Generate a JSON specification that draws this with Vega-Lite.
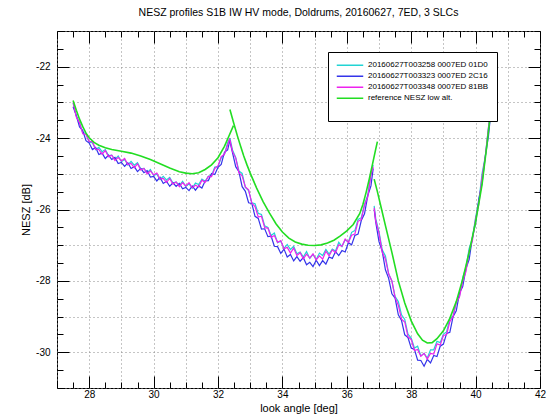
{
"$schema": "https://vega.github.io/schema/vega-lite/v6.json",
"width": 483, "height": 357,
"autosize": {"type": "none"},
"padding": {"left": 57, "top": 31, "right": 14, "bottom": 32},
"background": "white",
"title": {"text": "NESZ profiles S1B IW HV mode, Doldrums, 20160627, 7ED, 3 SLCs", "font": "Liberation Sans", "fontSize": 10.5, "fontWeight": "normal", "color": "black", "anchor": "middle", "offset": 8},
"config": {
  "view": {"stroke": "black", "strokeWidth": 1},
  "axis": {"labelFont": "Liberation Sans", "titleFont": "Liberation Sans", "labelFontSize": 10, "titleFontSize": 11, "titleFontWeight": "normal", "labelColor": "black", "titleColor": "black", "tickColor": "black", "domain": false, "gridColor": "#8a8a8a", "gridDash": [1, 3], "gridWidth": 1, "labelOverlap": false, "labelFlush": false}
},
"data": {"values": [
{"s":"c","g":1,"x":27.5,"y":-23.02},{"s":"c","g":1,"x":27.6,"y":-23.38},{"s":"c","g":1,"x":27.7,"y":-23.57},{"s":"c","g":1,"x":27.8,"y":-23.85},{"s":"c","g":1,"x":27.9,"y":-23.86},{"s":"c","g":1,"x":28.0,"y":-24.12},{"s":"c","g":1,"x":28.1,"y":-24.13},{"s":"c","g":1,"x":28.2,"y":-24.32},{"s":"c","g":1,"x":28.3,"y":-24.26},{"s":"c","g":1,"x":28.4,"y":-24.38},{"s":"c","g":1,"x":28.5,"y":-24.32},{"s":"c","g":1,"x":28.6,"y":-24.49},{"s":"c","g":1,"x":28.7,"y":-24.48},{"s":"c","g":1,"x":28.8,"y":-24.60},{"s":"c","g":1,"x":28.9,"y":-24.50},{"s":"c","g":1,"x":29.0,"y":-24.66},{"s":"c","g":1,"x":29.1,"y":-24.60},{"s":"c","g":1,"x":29.2,"y":-24.75},{"s":"c","g":1,"x":29.3,"y":-24.65},{"s":"c","g":1,"x":29.4,"y":-24.76},{"s":"c","g":1,"x":29.5,"y":-24.69},{"s":"c","g":1,"x":29.6,"y":-24.86},{"s":"c","g":1,"x":29.7,"y":-24.85},{"s":"c","g":1,"x":29.8,"y":-24.97},{"s":"c","g":1,"x":29.9,"y":-24.88},{"s":"c","g":1,"x":30.0,"y":-25.05},{"s":"c","g":1,"x":30.1,"y":-25.01},{"s":"c","g":1,"x":30.2,"y":-25.16},{"s":"c","g":1,"x":30.3,"y":-25.07},{"s":"c","g":1,"x":30.4,"y":-25.17},{"s":"c","g":1,"x":30.5,"y":-25.10},{"s":"c","g":1,"x":30.6,"y":-25.26},{"s":"c","g":1,"x":30.7,"y":-25.23},{"s":"c","g":1,"x":30.8,"y":-25.33},{"s":"c","g":1,"x":30.9,"y":-25.21},{"s":"c","g":1,"x":31.0,"y":-25.36},{"s":"c","g":1,"x":31.1,"y":-25.28},{"s":"c","g":1,"x":31.2,"y":-25.40},{"s":"c","g":1,"x":31.3,"y":-25.26},{"s":"c","g":1,"x":31.4,"y":-25.30},{"s":"c","g":1,"x":31.5,"y":-25.15},{"s":"c","g":1,"x":31.6,"y":-25.21},{"s":"c","g":1,"x":31.7,"y":-25.07},{"s":"c","g":1,"x":31.8,"y":-25.05},{"s":"c","g":1,"x":31.9,"y":-24.81},{"s":"c","g":1,"x":32.0,"y":-24.80},{"s":"c","g":1,"x":32.1,"y":-24.55},{"s":"c","g":1,"x":32.2,"y":-24.46},{"s":"c","g":1,"x":32.3,"y":-24.13},{"s":"c","g":1,"x":32.37,"y":-24.0},
{"s":"c","g":2,"x":32.37,"y":-24.0},{"s":"c","g":2,"x":32.45,"y":-24.33},{"s":"c","g":2,"x":32.55,"y":-24.54},{"s":"c","g":2,"x":32.65,"y":-24.92},{"s":"c","g":2,"x":32.75,"y":-24.99},{"s":"c","g":2,"x":32.85,"y":-25.38},{"s":"c","g":2,"x":32.95,"y":-25.47},{"s":"c","g":2,"x":33.05,"y":-25.81},{"s":"c","g":2,"x":33.15,"y":-25.84},{"s":"c","g":2,"x":33.25,"y":-26.11},{"s":"c","g":2,"x":33.35,"y":-26.14},{"s":"c","g":2,"x":33.45,"y":-26.46},{"s":"c","g":2,"x":33.55,"y":-26.50},{"s":"c","g":2,"x":33.65,"y":-26.73},{"s":"c","g":2,"x":33.75,"y":-26.66},{"s":"c","g":2,"x":33.85,"y":-26.93},{"s":"c","g":2,"x":33.95,"y":-26.89},{"s":"c","g":2,"x":34.05,"y":-27.09},{"s":"c","g":2,"x":34.15,"y":-26.98},{"s":"c","g":2,"x":34.25,"y":-27.12},{"s":"c","g":2,"x":34.35,"y":-27.03},{"s":"c","g":2,"x":34.45,"y":-27.24},{"s":"c","g":2,"x":34.55,"y":-27.19},{"s":"c","g":2,"x":34.65,"y":-27.33},{"s":"c","g":2,"x":34.75,"y":-27.18},{"s":"c","g":2,"x":34.85,"y":-27.37},{"s":"c","g":2,"x":34.95,"y":-27.26},{"s":"c","g":2,"x":35.05,"y":-27.40},{"s":"c","g":2,"x":35.15,"y":-27.22},{"s":"c","g":2,"x":35.25,"y":-27.29},{"s":"c","g":2,"x":35.35,"y":-27.12},{"s":"c","g":2,"x":35.45,"y":-27.25},{"s":"c","g":2,"x":35.55,"y":-27.11},{"s":"c","g":2,"x":35.65,"y":-27.16},{"s":"c","g":2,"x":35.75,"y":-26.92},{"s":"c","g":2,"x":35.85,"y":-27.04},{"s":"c","g":2,"x":35.95,"y":-26.85},{"s":"c","g":2,"x":36.05,"y":-26.91},{"s":"c","g":2,"x":36.15,"y":-26.64},{"s":"c","g":2,"x":36.25,"y":-26.59},{"s":"c","g":2,"x":36.35,"y":-26.28},{"s":"c","g":2,"x":36.45,"y":-26.23},{"s":"c","g":2,"x":36.55,"y":-25.86},{"s":"c","g":2,"x":36.65,"y":-25.60},{"s":"c","g":2,"x":36.75,"y":-24.97},{"s":"c","g":2,"x":36.82,"y":-24.75},
{"s":"c","g":3,"x":36.85,"y":-25.9},{"s":"c","g":3,"x":36.9,"y":-26.26},{"s":"c","g":3,"x":37.0,"y":-26.62},{"s":"c","g":3,"x":37.1,"y":-27.13},{"s":"c","g":3,"x":37.2,"y":-27.30},{"s":"c","g":3,"x":37.3,"y":-27.80},{"s":"c","g":3,"x":37.4,"y":-28.00},{"s":"c","g":3,"x":37.5,"y":-28.44},{"s":"c","g":3,"x":37.6,"y":-28.58},{"s":"c","g":3,"x":37.7,"y":-28.95},{"s":"c","g":3,"x":37.8,"y":-29.08},{"s":"c","g":3,"x":37.9,"y":-29.49},{"s":"c","g":3,"x":38.0,"y":-29.60},{"s":"c","g":3,"x":38.1,"y":-29.88},{"s":"c","g":3,"x":38.2,"y":-29.83},{"s":"c","g":3,"x":38.3,"y":-30.10},{"s":"c","g":3,"x":38.4,"y":-30.03},{"s":"c","g":3,"x":38.5,"y":-30.16},{"s":"c","g":3,"x":38.6,"y":-29.93},{"s":"c","g":3,"x":38.7,"y":-29.93},{"s":"c","g":3,"x":38.8,"y":-29.69},{"s":"c","g":3,"x":38.9,"y":-29.73},{"s":"c","g":3,"x":39.0,"y":-29.49},{"s":"c","g":3,"x":39.1,"y":-29.43},{"s":"c","g":3,"x":39.2,"y":-29.05},{"s":"c","g":3,"x":39.3,"y":-28.99},{"s":"c","g":3,"x":39.4,"y":-28.60},{"s":"c","g":3,"x":39.5,"y":-28.42},{"s":"c","g":3,"x":39.6,"y":-27.91},{"s":"c","g":3,"x":39.7,"y":-27.62},{"s":"c","g":3,"x":39.8,"y":-27.09},{"s":"c","g":3,"x":39.9,"y":-26.81},{"s":"c","g":3,"x":40.0,"y":-26.22},{"s":"c","g":3,"x":40.1,"y":-25.78},{"s":"c","g":3,"x":40.2,"y":-25.00},{"s":"c","g":3,"x":40.3,"y":-24.52},{"s":"c","g":3,"x":40.4,"y":-23.70},{"s":"c","g":3,"x":40.5,"y":-23.0},
{"s":"b","g":1,"x":27.5,"y":-23.12},{"s":"b","g":1,"x":27.6,"y":-23.37},{"s":"b","g":1,"x":27.7,"y":-23.69},{"s":"b","g":1,"x":27.8,"y":-23.79},{"s":"b","g":1,"x":27.9,"y":-24.07},{"s":"b","g":1,"x":28.0,"y":-24.14},{"s":"b","g":1,"x":28.1,"y":-24.32},{"s":"b","g":1,"x":28.2,"y":-24.26},{"s":"b","g":1,"x":28.3,"y":-24.46},{"s":"b","g":1,"x":28.4,"y":-24.42},{"s":"b","g":1,"x":28.5,"y":-24.57},{"s":"b","g":1,"x":28.6,"y":-24.48},{"s":"b","g":1,"x":28.7,"y":-24.60},{"s":"b","g":1,"x":28.8,"y":-24.54},{"s":"b","g":1,"x":28.9,"y":-24.71},{"s":"b","g":1,"x":29.0,"y":-24.68},{"s":"b","g":1,"x":29.1,"y":-24.79},{"s":"b","g":1,"x":29.2,"y":-24.69},{"s":"b","g":1,"x":29.3,"y":-24.85},{"s":"b","g":1,"x":29.4,"y":-24.80},{"s":"b","g":1,"x":29.5,"y":-24.94},{"s":"b","g":1,"x":29.6,"y":-24.85},{"s":"b","g":1,"x":29.7,"y":-24.97},{"s":"b","g":1,"x":29.8,"y":-24.91},{"s":"b","g":1,"x":29.9,"y":-25.09},{"s":"b","g":1,"x":30.0,"y":-25.07},{"s":"b","g":1,"x":30.1,"y":-25.20},{"s":"b","g":1,"x":30.2,"y":-25.10},{"s":"b","g":1,"x":30.3,"y":-25.27},{"s":"b","g":1,"x":30.4,"y":-25.21},{"s":"b","g":1,"x":30.5,"y":-25.35},{"s":"b","g":1,"x":30.6,"y":-25.25},{"s":"b","g":1,"x":30.7,"y":-25.35},{"s":"b","g":1,"x":30.8,"y":-25.27},{"s":"b","g":1,"x":30.9,"y":-25.42},{"s":"b","g":1,"x":31.0,"y":-25.38},{"s":"b","g":1,"x":31.1,"y":-25.47},{"s":"b","g":1,"x":31.2,"y":-25.34},{"s":"b","g":1,"x":31.3,"y":-25.46},{"s":"b","g":1,"x":31.4,"y":-25.34},{"s":"b","g":1,"x":31.5,"y":-25.40},{"s":"b","g":1,"x":31.6,"y":-25.20},{"s":"b","g":1,"x":31.7,"y":-25.19},{"s":"b","g":1,"x":31.8,"y":-24.99},{"s":"b","g":1,"x":31.9,"y":-25.02},{"s":"b","g":1,"x":32.0,"y":-24.82},{"s":"b","g":1,"x":32.1,"y":-24.74},{"s":"b","g":1,"x":32.2,"y":-24.40},{"s":"b","g":1,"x":32.3,"y":-24.33},{"s":"b","g":1,"x":32.37,"y":-24.05},
{"s":"b","g":2,"x":32.37,"y":-24.1},{"s":"b","g":2,"x":32.45,"y":-24.41},{"s":"b","g":2,"x":32.55,"y":-24.80},{"s":"b","g":2,"x":32.65,"y":-24.94},{"s":"b","g":2,"x":32.75,"y":-25.36},{"s":"b","g":2,"x":32.85,"y":-25.49},{"s":"b","g":2,"x":32.95,"y":-25.81},{"s":"b","g":2,"x":33.05,"y":-25.83},{"s":"b","g":2,"x":33.15,"y":-26.19},{"s":"b","g":2,"x":33.25,"y":-26.25},{"s":"b","g":2,"x":33.35,"y":-26.55},{"s":"b","g":2,"x":33.45,"y":-26.54},{"s":"b","g":2,"x":33.55,"y":-26.76},{"s":"b","g":2,"x":33.65,"y":-26.75},{"s":"b","g":2,"x":33.75,"y":-27.03},{"s":"b","g":2,"x":33.85,"y":-27.04},{"s":"b","g":2,"x":33.95,"y":-27.23},{"s":"b","g":2,"x":34.05,"y":-27.11},{"s":"b","g":2,"x":34.15,"y":-27.33},{"s":"b","g":2,"x":34.25,"y":-27.26},{"s":"b","g":2,"x":34.35,"y":-27.44},{"s":"b","g":2,"x":34.45,"y":-27.32},{"s":"b","g":2,"x":34.55,"y":-27.45},{"s":"b","g":2,"x":34.65,"y":-27.35},{"s":"b","g":2,"x":34.75,"y":-27.55},{"s":"b","g":2,"x":34.85,"y":-27.48},{"s":"b","g":2,"x":34.95,"y":-27.60},{"s":"b","g":2,"x":35.05,"y":-27.42},{"s":"b","g":2,"x":35.15,"y":-27.57},{"s":"b","g":2,"x":35.25,"y":-27.43},{"s":"b","g":2,"x":35.35,"y":-27.53},{"s":"b","g":2,"x":35.45,"y":-27.33},{"s":"b","g":2,"x":35.55,"y":-27.37},{"s":"b","g":2,"x":35.65,"y":-27.18},{"s":"b","g":2,"x":35.75,"y":-27.29},{"s":"b","g":2,"x":35.85,"y":-27.15},{"s":"b","g":2,"x":35.95,"y":-27.19},{"s":"b","g":2,"x":36.05,"y":-26.93},{"s":"b","g":2,"x":36.15,"y":-26.99},{"s":"b","g":2,"x":36.25,"y":-26.73},{"s":"b","g":2,"x":36.35,"y":-26.69},{"s":"b","g":2,"x":36.45,"y":-26.31},{"s":"b","g":2,"x":36.55,"y":-26.12},{"s":"b","g":2,"x":36.65,"y":-25.62},{"s":"b","g":2,"x":36.75,"y":-25.34},{"s":"b","g":2,"x":36.82,"y":-24.85},
{"s":"b","g":3,"x":36.85,"y":-26.0},{"s":"b","g":3,"x":36.9,"y":-26.36},{"s":"b","g":3,"x":37.0,"y":-26.90},{"s":"b","g":3,"x":37.1,"y":-27.17},{"s":"b","g":3,"x":37.2,"y":-27.69},{"s":"b","g":3,"x":37.3,"y":-27.93},{"s":"b","g":3,"x":37.4,"y":-28.36},{"s":"b","g":3,"x":37.5,"y":-28.48},{"s":"b","g":3,"x":37.6,"y":-28.95},{"s":"b","g":3,"x":37.7,"y":-29.11},{"s":"b","g":3,"x":37.8,"y":-29.51},{"s":"b","g":3,"x":37.9,"y":-29.59},{"s":"b","g":3,"x":38.0,"y":-29.88},{"s":"b","g":3,"x":38.1,"y":-29.92},{"s":"b","g":3,"x":38.2,"y":-30.22},{"s":"b","g":3,"x":38.3,"y":-30.23},{"s":"b","g":3,"x":38.4,"y":-30.39},{"s":"b","g":3,"x":38.5,"y":-30.20},{"s":"b","g":3,"x":38.6,"y":-30.30},{"s":"b","g":3,"x":38.7,"y":-30.09},{"s":"b","g":3,"x":38.8,"y":-30.12},{"s":"b","g":3,"x":38.9,"y":-29.83},{"s":"b","g":3,"x":39.0,"y":-29.77},{"s":"b","g":3,"x":39.1,"y":-29.47},{"s":"b","g":3,"x":39.2,"y":-29.44},{"s":"b","g":3,"x":39.3,"y":-29.00},{"s":"b","g":3,"x":39.4,"y":-28.84},{"s":"b","g":3,"x":39.5,"y":-28.34},{"s":"b","g":3,"x":39.6,"y":-28.16},{"s":"b","g":3,"x":39.7,"y":-27.66},{"s":"b","g":3,"x":39.8,"y":-27.40},{"s":"b","g":3,"x":39.9,"y":-26.79},{"s":"b","g":3,"x":40.0,"y":-26.38},{"s":"b","g":3,"x":40.1,"y":-25.70},{"s":"b","g":3,"x":40.2,"y":-25.27},{"s":"b","g":3,"x":40.3,"y":-24.53},{"s":"b","g":3,"x":40.4,"y":-23.94},{"s":"b","g":3,"x":40.5,"y":-23.05},
{"s":"m","g":1,"x":27.5,"y":-23.0},{"s":"m","g":1,"x":27.6,"y":-23.41},{"s":"m","g":1,"x":27.7,"y":-23.57},{"s":"m","g":1,"x":27.8,"y":-23.88},{"s":"m","g":1,"x":27.9,"y":-23.90},{"s":"m","g":1,"x":28.0,"y":-24.10},{"s":"m","g":1,"x":28.1,"y":-24.10},{"s":"m","g":1,"x":28.2,"y":-24.31},{"s":"m","g":1,"x":28.3,"y":-24.32},{"s":"m","g":1,"x":28.4,"y":-24.45},{"s":"m","g":1,"x":28.5,"y":-24.35},{"s":"m","g":1,"x":28.6,"y":-24.52},{"s":"m","g":1,"x":28.7,"y":-24.48},{"s":"m","g":1,"x":28.8,"y":-24.63},{"s":"m","g":1,"x":28.9,"y":-24.54},{"s":"m","g":1,"x":29.0,"y":-24.64},{"s":"m","g":1,"x":29.1,"y":-24.57},{"s":"m","g":1,"x":29.2,"y":-24.74},{"s":"m","g":1,"x":29.3,"y":-24.71},{"s":"m","g":1,"x":29.4,"y":-24.83},{"s":"m","g":1,"x":29.5,"y":-24.72},{"s":"m","g":1,"x":29.6,"y":-24.89},{"s":"m","g":1,"x":29.7,"y":-24.85},{"s":"m","g":1,"x":29.8,"y":-25.00},{"s":"m","g":1,"x":29.9,"y":-24.92},{"s":"m","g":1,"x":30.0,"y":-25.03},{"s":"m","g":1,"x":30.1,"y":-24.98},{"s":"m","g":1,"x":30.2,"y":-25.15},{"s":"m","g":1,"x":30.3,"y":-25.13},{"s":"m","g":1,"x":30.4,"y":-25.24},{"s":"m","g":1,"x":30.5,"y":-25.13},{"s":"m","g":1,"x":30.6,"y":-25.29},{"s":"m","g":1,"x":30.7,"y":-25.23},{"s":"m","g":1,"x":30.8,"y":-25.36},{"s":"m","g":1,"x":30.9,"y":-25.25},{"s":"m","g":1,"x":31.0,"y":-25.34},{"s":"m","g":1,"x":31.1,"y":-25.25},{"s":"m","g":1,"x":31.2,"y":-25.39},{"s":"m","g":1,"x":31.3,"y":-25.32},{"s":"m","g":1,"x":31.4,"y":-25.37},{"s":"m","g":1,"x":31.5,"y":-25.18},{"s":"m","g":1,"x":31.6,"y":-25.24},{"s":"m","g":1,"x":31.7,"y":-25.07},{"s":"m","g":1,"x":31.8,"y":-25.08},{"s":"m","g":1,"x":31.9,"y":-24.85},{"s":"m","g":1,"x":32.0,"y":-24.78},{"s":"m","g":1,"x":32.1,"y":-24.52},{"s":"m","g":1,"x":32.2,"y":-24.45},{"s":"m","g":1,"x":32.3,"y":-24.19},{"s":"m","g":1,"x":32.37,"y":-24.0},
{"s":"m","g":2,"x":32.37,"y":-24.05},{"s":"m","g":2,"x":32.45,"y":-24.38},{"s":"m","g":2,"x":32.55,"y":-24.56},{"s":"m","g":2,"x":32.65,"y":-24.97},{"s":"m","g":2,"x":32.75,"y":-25.06},{"s":"m","g":2,"x":32.85,"y":-25.37},{"s":"m","g":2,"x":32.95,"y":-25.45},{"s":"m","g":2,"x":33.05,"y":-25.82},{"s":"m","g":2,"x":33.15,"y":-25.92},{"s":"m","g":2,"x":33.25,"y":-26.21},{"s":"m","g":2,"x":33.35,"y":-26.19},{"s":"m","g":2,"x":33.45,"y":-26.51},{"s":"m","g":2,"x":33.55,"y":-26.52},{"s":"m","g":2,"x":33.65,"y":-26.78},{"s":"m","g":2,"x":33.75,"y":-26.73},{"s":"m","g":2,"x":33.85,"y":-26.92},{"s":"m","g":2,"x":33.95,"y":-26.87},{"s":"m","g":2,"x":34.05,"y":-27.10},{"s":"m","g":2,"x":34.15,"y":-27.06},{"s":"m","g":2,"x":34.25,"y":-27.22},{"s":"m","g":2,"x":34.35,"y":-27.08},{"s":"m","g":2,"x":34.45,"y":-27.29},{"s":"m","g":2,"x":34.55,"y":-27.21},{"s":"m","g":2,"x":34.65,"y":-27.38},{"s":"m","g":2,"x":34.75,"y":-27.25},{"s":"m","g":2,"x":34.85,"y":-27.36},{"s":"m","g":2,"x":34.95,"y":-27.24},{"s":"m","g":2,"x":35.05,"y":-27.41},{"s":"m","g":2,"x":35.15,"y":-27.30},{"s":"m","g":2,"x":35.25,"y":-27.39},{"s":"m","g":2,"x":35.35,"y":-27.17},{"s":"m","g":2,"x":35.45,"y":-27.30},{"s":"m","g":2,"x":35.55,"y":-27.13},{"s":"m","g":2,"x":35.65,"y":-27.21},{"s":"m","g":2,"x":35.75,"y":-26.99},{"s":"m","g":2,"x":35.85,"y":-27.03},{"s":"m","g":2,"x":35.95,"y":-26.83},{"s":"m","g":2,"x":36.05,"y":-26.92},{"s":"m","g":2,"x":36.15,"y":-26.72},{"s":"m","g":2,"x":36.25,"y":-26.69},{"s":"m","g":2,"x":36.35,"y":-26.33},{"s":"m","g":2,"x":36.45,"y":-26.28},{"s":"m","g":2,"x":36.55,"y":-25.88},{"s":"m","g":2,"x":36.65,"y":-25.65},{"s":"m","g":2,"x":36.75,"y":-25.04},{"s":"m","g":2,"x":36.82,"y":-24.80},
{"s":"m","g":3,"x":36.85,"y":-25.95},{"s":"m","g":3,"x":36.9,"y":-26.33},{"s":"m","g":3,"x":37.0,"y":-26.66},{"s":"m","g":3,"x":37.1,"y":-27.20},{"s":"m","g":3,"x":37.2,"y":-27.39},{"s":"m","g":3,"x":37.3,"y":-27.81},{"s":"m","g":3,"x":37.4,"y":-28.00},{"s":"m","g":3,"x":37.5,"y":-28.47},{"s":"m","g":3,"x":37.6,"y":-28.68},{"s":"m","g":3,"x":37.7,"y":-29.07},{"s":"m","g":3,"x":37.8,"y":-29.15},{"s":"m","g":3,"x":37.9,"y":-29.56},{"s":"m","g":3,"x":38.0,"y":-29.64},{"s":"m","g":3,"x":38.1,"y":-29.95},{"s":"m","g":3,"x":38.2,"y":-29.92},{"s":"m","g":3,"x":38.3,"y":-30.11},{"s":"m","g":3,"x":38.4,"y":-30.03},{"s":"m","g":3,"x":38.5,"y":-30.19},{"s":"m","g":3,"x":38.6,"y":-30.03},{"s":"m","g":3,"x":38.7,"y":-30.05},{"s":"m","g":3,"x":38.8,"y":-29.76},{"s":"m","g":3,"x":38.9,"y":-29.80},{"s":"m","g":3,"x":39.0,"y":-29.53},{"s":"m","g":3,"x":39.1,"y":-29.50},{"s":"m","g":3,"x":39.2,"y":-29.14},{"s":"m","g":3,"x":39.3,"y":-29.00},{"s":"m","g":3,"x":39.4,"y":-28.60},{"s":"m","g":3,"x":39.5,"y":-28.45},{"s":"m","g":3,"x":39.6,"y":-28.01},{"s":"m","g":3,"x":39.7,"y":-27.74},{"s":"m","g":3,"x":39.8,"y":-27.16},{"s":"m","g":3,"x":39.9,"y":-26.88},{"s":"m","g":3,"x":40.0,"y":-26.26},{"s":"m","g":3,"x":40.1,"y":-25.85},{"s":"m","g":3,"x":40.2,"y":-25.09},{"s":"m","g":3,"x":40.3,"y":-24.53},{"s":"m","g":3,"x":40.4,"y":-23.70},{"s":"m","g":3,"x":40.5,"y":-23.0},
{"s":"g","g":1,"x":27.5,"y":-22.95},{"s":"g","g":1,"x":27.6,"y":-23.22},{"s":"g","g":1,"x":27.7,"y":-23.47},{"s":"g","g":1,"x":27.8,"y":-23.68},{"s":"g","g":1,"x":27.9,"y":-23.86},{"s":"g","g":1,"x":28.0,"y":-23.99},{"s":"g","g":1,"x":28.15,"y":-24.12},{"s":"g","g":1,"x":28.3,"y":-24.2},{"s":"g","g":1,"x":28.5,"y":-24.27},{"s":"g","g":1,"x":28.7,"y":-24.32},{"s":"g","g":1,"x":29.0,"y":-24.37},{"s":"g","g":1,"x":29.3,"y":-24.42},{"s":"g","g":1,"x":29.6,"y":-24.5},{"s":"g","g":1,"x":29.9,"y":-24.6},{"s":"g","g":1,"x":30.2,"y":-24.72},{"s":"g","g":1,"x":30.5,"y":-24.84},{"s":"g","g":1,"x":30.8,"y":-24.94},{"s":"g","g":1,"x":31.0,"y":-24.98},{"s":"g","g":1,"x":31.2,"y":-25.0},{"s":"g","g":1,"x":31.4,"y":-24.97},{"s":"g","g":1,"x":31.6,"y":-24.88},{"s":"g","g":1,"x":31.8,"y":-24.75},{"s":"g","g":1,"x":32.0,"y":-24.55},{"s":"g","g":1,"x":32.2,"y":-24.23},{"s":"g","g":1,"x":32.35,"y":-23.92},{"s":"g","g":1,"x":32.48,"y":-23.65},
{"s":"g","g":2,"x":32.37,"y":-23.2},{"s":"g","g":2,"x":32.5,"y":-23.62},{"s":"g","g":2,"x":32.6,"y":-23.93},{"s":"g","g":2,"x":32.7,"y":-24.22},{"s":"g","g":2,"x":32.8,"y":-24.5},{"s":"g","g":2,"x":32.9,"y":-24.75},{"s":"g","g":2,"x":33.0,"y":-24.98},{"s":"g","g":2,"x":33.2,"y":-25.4},{"s":"g","g":2,"x":33.4,"y":-25.78},{"s":"g","g":2,"x":33.6,"y":-26.1},{"s":"g","g":2,"x":33.8,"y":-26.4},{"s":"g","g":2,"x":34.0,"y":-26.63},{"s":"g","g":2,"x":34.2,"y":-26.8},{"s":"g","g":2,"x":34.4,"y":-26.91},{"s":"g","g":2,"x":34.6,"y":-26.97},{"s":"g","g":2,"x":34.8,"y":-27.0},{"s":"g","g":2,"x":35.0,"y":-27.01},{"s":"g","g":2,"x":35.2,"y":-26.99},{"s":"g","g":2,"x":35.4,"y":-26.94},{"s":"g","g":2,"x":35.6,"y":-26.86},{"s":"g","g":2,"x":35.8,"y":-26.74},{"s":"g","g":2,"x":36.0,"y":-26.6},{"s":"g","g":2,"x":36.2,"y":-26.42},{"s":"g","g":2,"x":36.4,"y":-26.12},{"s":"g","g":2,"x":36.5,"y":-25.86},{"s":"g","g":2,"x":36.6,"y":-25.52},{"s":"g","g":2,"x":36.7,"y":-25.14},{"s":"g","g":2,"x":36.8,"y":-24.72},{"s":"g","g":2,"x":36.9,"y":-24.3},{"s":"g","g":2,"x":36.95,"y":-24.1},
{"s":"g","g":3,"x":36.85,"y":-25.15},{"s":"g","g":3,"x":36.95,"y":-25.5},{"s":"g","g":3,"x":37.05,"y":-25.88},{"s":"g","g":3,"x":37.2,"y":-26.45},{"s":"g","g":3,"x":37.4,"y":-27.2},{"s":"g","g":3,"x":37.6,"y":-28.0},{"s":"g","g":3,"x":37.8,"y":-28.62},{"s":"g","g":3,"x":38.0,"y":-29.12},{"s":"g","g":3,"x":38.2,"y":-29.48},{"s":"g","g":3,"x":38.35,"y":-29.66},{"s":"g","g":3,"x":38.5,"y":-29.74},{"s":"g","g":3,"x":38.65,"y":-29.73},{"s":"g","g":3,"x":38.8,"y":-29.62},{"s":"g","g":3,"x":39.0,"y":-29.4},{"s":"g","g":3,"x":39.2,"y":-29.05},{"s":"g","g":3,"x":39.4,"y":-28.58},{"s":"g","g":3,"x":39.6,"y":-27.95},{"s":"g","g":3,"x":39.8,"y":-27.2},{"s":"g","g":3,"x":40.0,"y":-26.35},{"s":"g","g":3,"x":40.2,"y":-25.3},{"s":"g","g":3,"x":40.35,"y":-24.2},{"s":"g","g":3,"x":40.5,"y":-23.0},{"s":"g","g":3,"x":40.6,"y":-22.2}
]},
"layer": [
  {
    "mark": {"type": "line", "clip": true},
    "encoding": {
      "x": {"field": "x", "type": "quantitative", "scale": {"domain": [27, 42], "nice": false, "zero": false},
        "axis": {"orient": "bottom", "values": [27,27.5,28,28.5,29,29.5,30,30.5,31,31.5,32,32.5,33,33.5,34,34.5,35,35.5,36,36.5,37,37.5,38,38.5,39,39.5,40,40.5,41,41.5,42],
          "labelExpr": "datum.value % 2 == 0 ? toString(datum.value) : ''",
          "tickSize": {"condition": {"test": "datum.value % 2 == 0", "value": -12}, "value": -6},
          "grid": true,
          "gridOpacity": {"condition": {"test": "datum.value % 1 == 0", "value": 1}, "value": 0},
          "labelPadding": 13, "title": "look angle [deg]", "titlePadding": -3}},
      "y": {"field": "y", "type": "quantitative", "scale": {"domain": [-31, -21], "nice": false, "zero": false},
        "axis": {"orient": "left", "values": [-31,-30.5,-30,-29.5,-29,-28.5,-28,-27.5,-27,-26.5,-26,-25.5,-25,-24.5,-24,-23.5,-23,-22.5,-22,-21.5,-21],
          "labelExpr": "datum.value % 2 == 0 ? toString(datum.value) : ''",
          "tickSize": {"condition": {"test": "datum.value % 2 == 0", "value": -12}, "value": -6},
          "grid": true,
          "gridOpacity": {"condition": {"test": "datum.value % 1 == 0", "value": 1}, "value": 0},
          "labelPadding": 19, "title": "NESZ [dB]", "titlePadding": 4}},
      "color": {"field": "s", "type": "nominal",
        "scale": {"domain": ["c", "b", "m", "g"], "range": ["#22d4d4", "#3434ea", "#ee22ee", "#22dd22"]},
        "legend": {"orient": "none", "legendX": 271, "legendY": 21, "title": " ", "titleOrient": "bottom", "titleFontSize": 8, "titlePadding": 2,
          "symbolType": "stroke", "symbolSize": 700, "symbolStrokeWidth": 1.5, "clipHeight": 10.3,
          "labelFont": "Liberation Sans", "labelFontSize": 8, "labelColor": "black", "labelOffset": 4, "labelLimit": 300,
          "fillColor": "white", "strokeColor": "black", "padding": 8, "rowPadding": 0,
          "labelExpr": "datum.label == 'c' ? '20160627T003258 0007ED 01D0' : datum.label == 'b' ? '20160627T003323 0007ED 2C16' : datum.label == 'm' ? '20160627T003348 0007ED 81BB' : 'reference NESZ low alt.'"}},
      "detail": {"field": "g", "type": "nominal"},
      "strokeWidth": {"condition": {"test": "datum.s == 'g'", "value": 1.6}, "value": 1.2}
    }
  },
  {
    "mark": {"type": "point", "opacity": 0},
    "encoding": {
      "x": {"field": "x", "type": "quantitative", "scale": {"domain": [27, 42], "nice": false, "zero": false},
        "axis": {"orient": "top", "values": [27,27.5,28,28.5,29,29.5,30,30.5,31,31.5,32,32.5,33,33.5,34,34.5,35,35.5,36,36.5,37,37.5,38,38.5,39,39.5,40,40.5,41,41.5,42],
          "labels": false, "grid": false, "title": null,
          "tickSize": {"condition": {"test": "datum.value % 2 == 0", "value": -12}, "value": -6}}},
      "y": {"field": "y", "type": "quantitative", "scale": {"domain": [-31, -21], "nice": false, "zero": false},
        "axis": {"orient": "right", "values": [-31,-30.5,-30,-29.5,-29,-28.5,-28,-27.5,-27,-26.5,-26,-25.5,-25,-24.5,-24,-23.5,-23,-22.5,-22,-21.5,-21],
          "labels": false, "grid": false, "title": null,
          "tickSize": {"condition": {"test": "datum.value % 2 == 0", "value": -12}, "value": -6}}}
    }
  }
],
"resolve": {"axis": {"x": "independent", "y": "independent"}}
}
